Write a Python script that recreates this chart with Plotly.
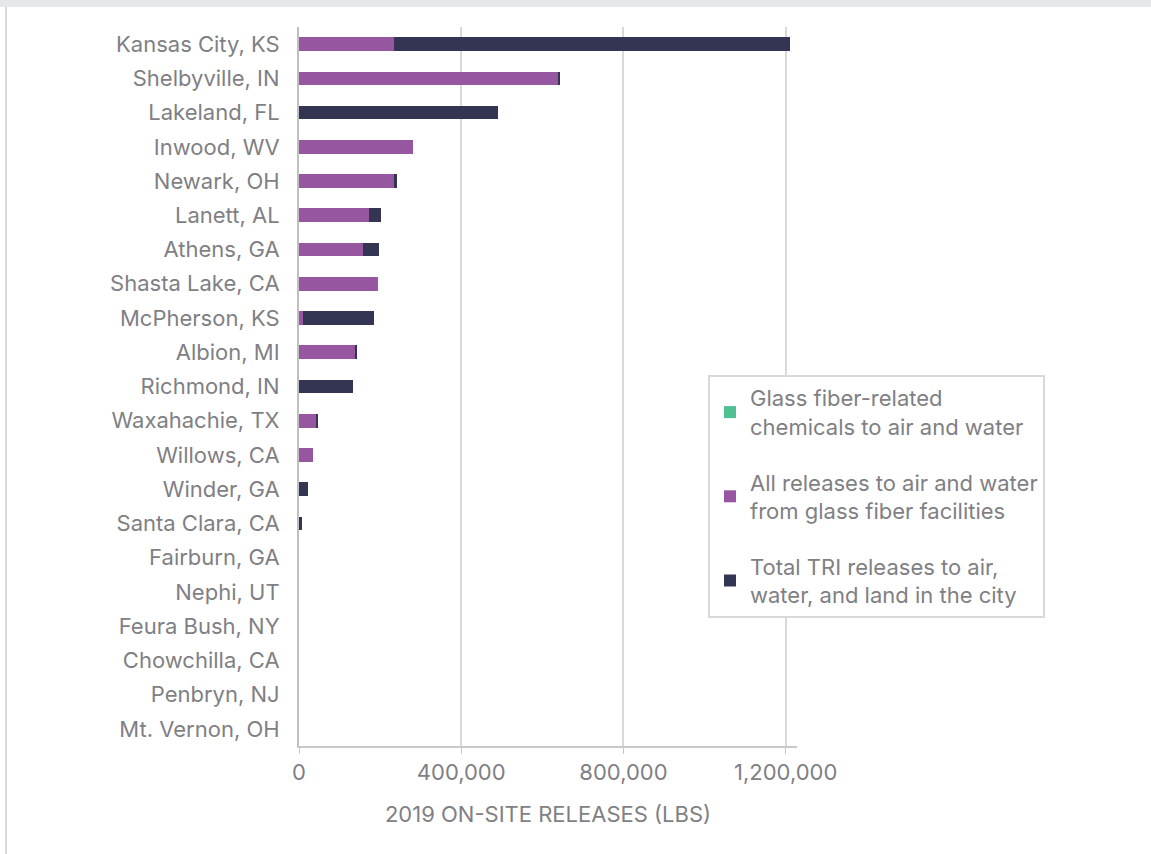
import plotly.graph_objects as go

cities = ["Kansas City, KS", "Shelbyville, IN", "Lakeland, FL", "Inwood, WV", "Newark, OH",
          "Lanett, AL", "Athens, GA", "Shasta Lake, CA", "McPherson, KS", "Albion, MI",
          "Richmond, IN", "Waxahachie, TX", "Willows, CA", "Winder, GA", "Santa Clara, CA",
          "Fairburn, GA", "Nephi, UT", "Feura Bush, NY", "Chowchilla, CA", "Penbryn, NJ",
          "Mt. Vernon, OH"]

glass_fiber_chem = [0, 0, 0, 0, 0, 0, 0, 0, 0, 0, 0, 0, 0, 0, 0, 0, 0, 0, 0, 0, 0]
all_releases = [234000, 639000, 0, 280000, 235000, 172000, 157000, 195000, 10500, 137000,
                0, 43000, 33500, 0, 0, 0, 0, 0, 0, 0, 0]
total_tri_extra = [976000, 5000, 490000, 0, 7000, 29000, 41000, 0, 173500, 6000,
                   133000, 5000, 0, 21000, 6500, 0, 0, 0, 0, 0, 0]

series_names = ["Glass fiber-related<br>chemicals to air and water",
                "All releases to air and water<br>from glass fiber facilities",
                "Total TRI releases to air,<br>water, and land in the city"]
series_colors = ["#4fbf94", "#9657a0", "#343553"]
x_ticks = [0, 400000, 800000, 1200000]
x_tick_labels = ["0", "400,000", "800,000", "1,200,000"]

W, H = 1151, 854
ML, MR, MT, MB = 299, 354, 27, 108
FONT = "Inter, Open Sans, sans-serif"
TXT = "#7f7f84"

fig = go.Figure()
for name, vals, col in zip(series_names, [glass_fiber_chem, all_releases, total_tri_extra], series_colors):
    fig.add_trace(go.Bar(
        y=cities, x=vals, name=name, orientation="h", legendgroup=name,
        marker=dict(color=col, line=dict(width=0)),
    ))

pw = W - ML - MR
ph = H - MT - MB
def px2x(p):
    return (p - ML) / pw
def py2y(p):
    return (H - MB - p) / ph

fig.update_layout(
    width=W, height=H,
    margin=dict(l=ML, r=MR, t=MT, b=MB, autoexpand=False),
    barmode="stack", bargap=0.6,
    paper_bgcolor="white", plot_bgcolor="rgba(0,0,0,0)",
    font=dict(family=FONT, size=22, color=TXT),
    xaxis=dict(range=[0, 1228000], tickvals=x_ticks, ticktext=x_tick_labels,
               showgrid=True, gridcolor="#d9d9d9", gridwidth=2,
               showline=True, linecolor="#c8c8c8", linewidth=1.5,
               ticks="outside", ticklen=6, tickcolor="#c8c8c8",
               zeroline=False,
               tickfont=dict(size=22, color=TXT),
               title=dict(text="2019 ON-SITE RELEASES (LBS)", font=dict(size=22, color=TXT), standoff=22)),
    yaxis=dict(autorange="reversed", showline=True, linecolor="#bfbfbf", linewidth=2,
               ticks="", tickfont=dict(size=22, color=TXT), ticklabelstandoff=13,
               showgrid=False),
    legend=dict(xref="container", yref="container", x=708 / W, y=1 - 375 / H,
                xanchor="left", yanchor="top", bordercolor="#d9d9d9", borderwidth=2,
                bgcolor="white", traceorder="grouped", tracegroupgap=24,
                font=dict(size=22, color=TXT), itemwidth=30),
    shapes=[
        dict(type="rect", xref="paper", yref="paper", x0=px2x(0), x1=px2x(W), y0=py2y(7), y1=py2y(0),
             fillcolor="#e6e7e9", line=dict(width=0), layer="below"),
        dict(type="rect", xref="paper", yref="paper", x0=px2x(5), x1=px2x(7), y0=py2y(H), y1=py2y(7),
             fillcolor="#d8d8d8", line=dict(width=0), layer="below"),
    ],
)

fig.write_html("out.html")
